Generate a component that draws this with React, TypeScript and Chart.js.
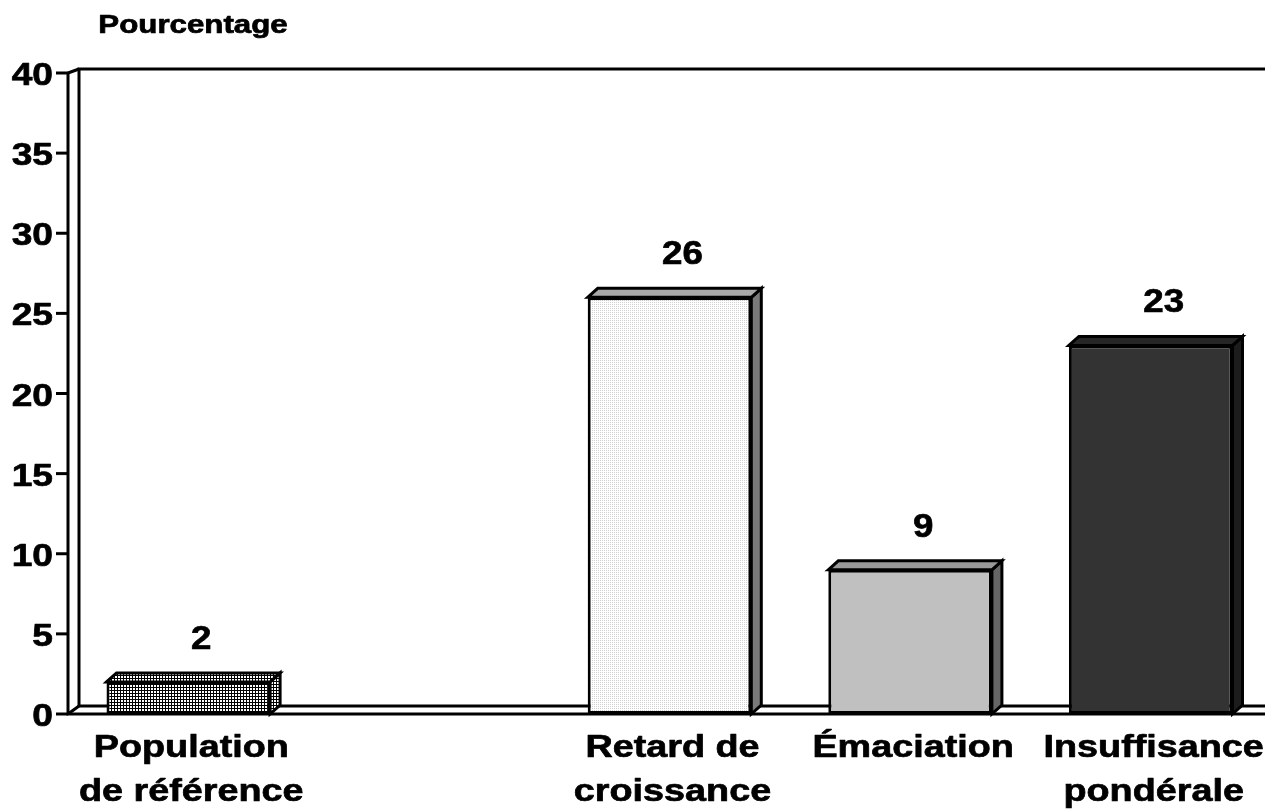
import React, { useEffect, useRef } from "react";
import { Chart, registerables } from "chart.js";

Chart.register(...registerables);

const categoryLabels: string[][] = [
  ["Population", "de référence"],
  [],
  ["Retard de", "croissance"],
  ["Émaciation"],
  ["Insuffisance", "pondérale"],
];
const percentages: (number | null)[] = [2, null, 26, 9, 23];
const yTicks: number[] = [0, 5, 10, 15, 20, 25, 30, 35, 40];
const yAxisTitle = "Pourcentage";

const topColors = ["pattern", "#a8a8a8", "#a8a8a8", "#999999", "#262626"];
const sideColors = ["pattern", "#7a7a7a", "#7a7a7a", "#666666", "#1c1c1c"];

const FONT = '"Liberation Sans", Arial, sans-serif';
const DX = 10;
const DY = 9;

function makeGridPattern(ctx: CanvasRenderingContext2D): CanvasPattern | string {
  const c = document.createElement("canvas");
  c.width = 3;
  c.height = 3;
  const g = c.getContext("2d")!;
  g.fillStyle = "#ffffff";
  g.fillRect(0, 0, 3, 3);
  g.fillStyle = "#000000";
  g.fillRect(0, 0, 3, 1);
  g.fillRect(0, 0, 1, 3);
  return ctx.createPattern(c, "repeat") || "#777777";
}

function makeDotPattern(ctx: CanvasRenderingContext2D): CanvasPattern | string {
  const c = document.createElement("canvas");
  c.width = 2;
  c.height = 2;
  const g = c.getContext("2d")!;
  g.fillStyle = "#ffffff";
  g.fillRect(0, 0, 2, 2);
  g.fillStyle = "#d0d0d0";
  g.fillRect(0, 0, 1, 1);
  return ctx.createPattern(c, "repeat") || "#f0f0f0";
}

function drawText(
  ctx: CanvasRenderingContext2D,
  text: string,
  x: number,
  y: number,
  size: number,
  sx: number,
  align: CanvasTextAlign
) {
  ctx.save();
  ctx.font = `bold ${size}px ${FONT}`;
  ctx.textBaseline = "alphabetic";
  ctx.textAlign = align;
  ctx.fillStyle = "#000000";
  ctx.strokeStyle = "#000000";
  ctx.lineWidth = 0.7;
  ctx.lineJoin = "round";
  ctx.translate(x, y);
  ctx.scale(sx, 1);
  ctx.fillText(text, 0, 0);
  ctx.strokeText(text, 0, 0);
  ctx.restore();
}

export default function App() {
  const ref = useRef<HTMLCanvasElement | null>(null);

  useEffect(() => {
    const canvas = ref.current;
    if (!canvas) return;
    const ctx0 = canvas.getContext("2d")!;
    const gridPat = makeGridPattern(ctx0);
    const dotPat = makeDotPattern(ctx0);
    const frontFills: (CanvasPattern | string)[] = [gridPat, dotPat, dotPat, "#c0c0c0", "#333333"];
    const resolve = (c: string, i: number) => (c === "pattern" ? frontFills[i] : c);

    const plugin = {
      id: "pseudo3d",
      beforeDraw(chart: any) {
        const { ctx, chartArea, scales } = chart;
        const y = scales.y;
        const W = chart.width;
        ctx.save();
        ctx.fillStyle = "#ffffff";
        ctx.fillRect(0, 0, W, chart.height);
        ctx.strokeStyle = "#000000";
        ctx.lineWidth = 3;
        ctx.lineCap = "butt";
        const L = chartArea.left;
        const B = chartArea.bottom;
        const T = chartArea.top;
        const backTop = T - 4;
        const backBottom = B - 8;
        // back wall top & left
        ctx.beginPath();
        ctx.moveTo(W + 10, backTop);
        ctx.lineTo(L + DX + 1, backTop);
        ctx.lineTo(L + DX + 1, backBottom);
        ctx.lineTo(W + 10, backBottom);
        ctx.stroke();
        // front left axis
        ctx.beginPath();
        ctx.moveTo(L, T - 1);
        ctx.lineTo(L, B);
        ctx.lineTo(W + 10, B);
        ctx.stroke();
        // diagonals
        ctx.beginPath();
        ctx.moveTo(L, T);
        ctx.lineTo(L + DX + 1, backTop);
        ctx.moveTo(L, B);
        ctx.lineTo(L + DX + 1, backBottom);
        ctx.stroke();
        // ticks & labels
        yTicks.forEach((v) => {
          const py = y.getPixelForValue(v);
          ctx.beginPath();
          ctx.moveTo(L - 12, py);
          ctx.lineTo(L, py);
          ctx.stroke();
          drawText(ctx, String(v), 53, py + 12, 32, 1.16, "right");
        });
        drawText(ctx, yAxisTitle, 193, 33, 25, 1.25, "center");
        ctx.restore();
      },
      beforeDatasetsDraw(chart: any) {
        const { ctx } = chart;
        const meta = chart.getDatasetMeta(0);
        ctx.save();
        ctx.strokeStyle = "#000000";
        ctx.lineWidth = 3;
        ctx.lineJoin = "miter";
        meta.data.forEach((bar: any, i: number) => {
          if (percentages[i] == null) return;
          const p = bar.getProps(["x", "y", "base", "width"], true);
          const l = p.x - p.width / 2;
          const r = p.x + p.width / 2;
          const t = p.y;
          const b = p.base;
          // side
          ctx.beginPath();
          ctx.moveTo(r, t);
          ctx.lineTo(r + DX, t - DY);
          ctx.lineTo(r + DX, b - DY);
          ctx.lineTo(r, b);
          ctx.closePath();
          ctx.fillStyle = resolve(sideColors[i], i);
          ctx.fill();
          ctx.stroke();
          // top
          ctx.beginPath();
          ctx.moveTo(l, t);
          ctx.lineTo(l + DX, t - DY);
          ctx.lineTo(r + DX, t - DY);
          ctx.lineTo(r, t);
          ctx.closePath();
          ctx.fillStyle = resolve(topColors[i], i);
          ctx.fill();
          ctx.stroke();
        });
        ctx.restore();
      },
      afterDatasetsDraw(chart: any) {
        const { ctx } = chart;
        const meta = chart.getDatasetMeta(0);
        const xs = chart.scales.x;
        meta.data.forEach((bar: any, i: number) => {
          const v = percentages[i];
          if (v == null) return;
          const p = bar.getProps(["x", "y"], true);
          drawText(ctx, String(v), p.x + 13, p.y - 33, 34, 1.08, "center");
        });
        categoryLabels.forEach((lines, i) => {
          const cx = xs.getPixelForValue(i) + 3;
          lines.forEach((line, j) => {
            drawText(ctx, line, cx, 757 + j * 44, 32, 1.18, "center");
          });
        });
      },
    };

    const chart = new Chart(canvas, {
      type: "bar",
      data: {
        labels: categoryLabels.map((l) => l.join(" ")),
        datasets: [
          {
            data: percentages as any,
            backgroundColor: frontFills as any,
            borderColor: "#000000",
            borderWidth: 3,
            borderSkipped: false,
            barPercentage: 0.68,
            categoryPercentage: 1,
          },
        ],
      },
      options: {
        responsive: false,
        animation: false,
        devicePixelRatio: 1,
        layout: { padding: { left: 68, right: 9, top: 73, bottom: 97 } },
        plugins: { legend: { display: false }, tooltip: { enabled: false } },
        scales: {
          x: { display: false, offset: true },
          y: { display: false, min: 0, max: 40 },
        },
      },
      plugins: [plugin],
    });
    return () => chart.destroy();
  }, []);

  return (
    <div
      style={{
        position: "fixed",
        left: 0,
        top: 0,
        width: 1265,
        height: 811,
        overflow: "hidden",
        background: "#ffffff",
      }}
    >
      <canvas ref={ref} width={1280} height={811} style={{ width: 1280, height: 811, display: "block" }} />
    </div>
  );
}
